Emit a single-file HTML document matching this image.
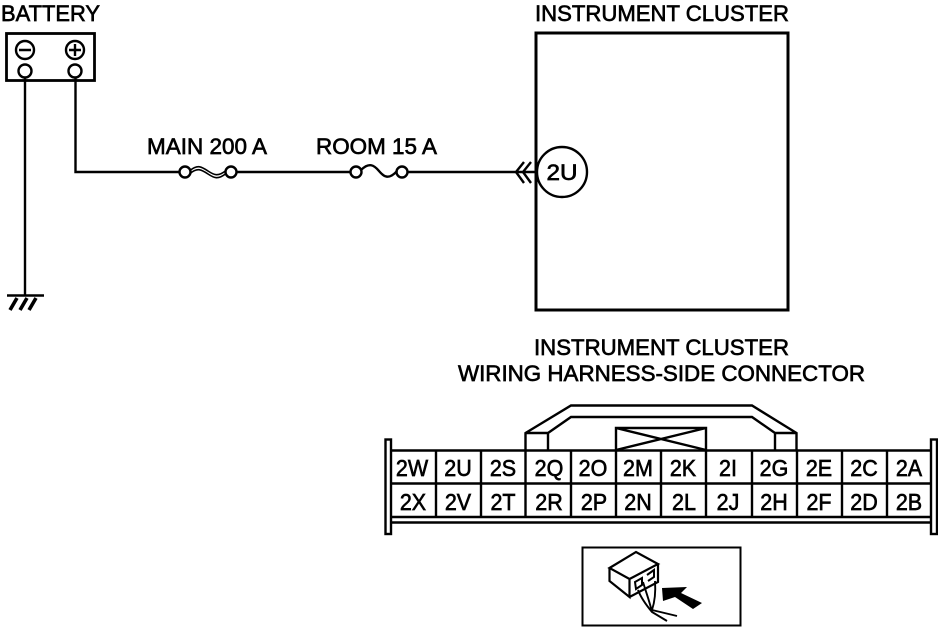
<!DOCTYPE html>
<html><head><meta charset="utf-8"><style>
html,body{margin:0;padding:0;background:#fff}
svg{display:block}
text{font-family:"Liberation Sans",sans-serif;font-size:20.5px;fill:#000;stroke:#000;stroke-width:.6px}
.k text{font-size:21.5px}
</style></head><body>
<svg width="938" height="627" viewBox="0 0 938 627" fill="none" stroke="#000" stroke-width="2.4">
<g transform="matrix(1 0 0 1.07 0 -1.47)">
<text x="1" y="21" textLength="99" lengthAdjust="spacingAndGlyphs">BATTERY</text>
<text x="535" y="21" textLength="254" lengthAdjust="spacingAndGlyphs">INSTRUMENT CLUSTER</text>
</g>
<rect x="6.500" y="33.500" width="88" height="47" stroke-width="2.800"/>
<circle cx="25" cy="50" r="9"/><circle cx="75" cy="50" r="9"/>
<path d="M19 50H31M69 50H81M75 44V56"/>
<circle cx="25" cy="71" r="6.500"/><circle cx="75" cy="71" r="6.500"/>
<path d="M25 78V296M7 295.500H44"/>
<path d="M10 310L17 298M20 310L27 298M29 310L36 298" stroke-width="3.600"/>
<path d="M75.500 78V172H179.500M236.500 172H350.500M407.500 172H536"/>
<g transform="matrix(1 0 0 1.07 0 -10.78)">
<text x="147" y="154" textLength="120" lengthAdjust="spacingAndGlyphs">MAIN 200 A</text>
<text x="316" y="154" textLength="121" lengthAdjust="spacingAndGlyphs">ROOM 15 A</text>
</g>
<circle cx="185" cy="172" r="5.500"/><circle cx="231" cy="172" r="5.500"/>
<path d="M190 170.500C198 164 202 167 208 171C214 175 218 177 226 170.500" stroke-width="1.600"/>
<path d="M190 173.500C198 167 202 170 208 174C214 178 218 180 226 173.500" stroke-width="1.600"/>
<circle cx="356" cy="172" r="5.500"/><circle cx="402" cy="172" r="5.500"/>
<path d="M361 170C369 162 374 165 379 171C384 177 389 180 397 171"/>
<path d="M524 162L516 172L524 183M531 162L523 172L531 183"/>
<rect x="536" y="33" width="252" height="277" stroke-width="3"/>
<circle cx="562" cy="172" r="25" fill="#fff"/>
<text x="562" y="180" text-anchor="middle" textLength="31" lengthAdjust="spacingAndGlyphs" transform="matrix(1 0 0 1.1 0 -18)">2U</text>
<g transform="matrix(1 0 0 1.07 0 -24.85)">
<text x="534" y="355" textLength="255" lengthAdjust="spacingAndGlyphs">INSTRUMENT CLUSTER</text>
</g>
<g transform="matrix(1 0 0 1.07 0 -26.67)">
<text x="458" y="381" textLength="407" lengthAdjust="spacingAndGlyphs">WIRING HARNESS-SIDE CONNECTOR</text>
</g>
<path d="M525.500 450V433L571 405.500H752L796.500 433V450M548 450V433L571 417H752L775 433V450M525.500 433H548M775 433H796.500"/>
<path d="M616 450V428H706V450M616 428L706 450M706 428L616 450"/>
<rect x="385.500" y="439.500" width="5.500" height="94.500"/>
<rect x="931" y="439.500" width="6" height="94.500"/>
<path d="M391 450.500H931M391 483.500H931M391 517H931M391 522.500H931"/>
<path d="M436 450V517M481 450V517M525.500 450V517M571 450V517M616 450V517M661 450V517M706 450V517M752 450V517M797 450V517M842 450V517M887 450V517"/>
<g class="k" text-anchor="middle" transform="matrix(1 0 0 1.07 0 -33.32)">
<text x="412" y="476">2W</text><text x="458" y="476">2U</text><text x="503" y="476">2S</text><text x="549" y="476">2Q</text><text x="593" y="476">2O</text><text x="638" y="476">2M</text><text x="683" y="476">2K</text><text x="728" y="476">2I</text><text x="774" y="476">2G</text><text x="819" y="476">2E</text><text x="864" y="476">2C</text><text x="909" y="476">2A</text>
</g>
<g class="k" text-anchor="middle" transform="matrix(1 0 0 1.07 0 -35.7)">
<text x="413" y="510">2X</text><text x="458" y="510">2V</text><text x="503" y="510">2T</text><text x="549" y="510">2R</text><text x="594" y="510">2P</text><text x="638" y="510">2N</text><text x="684" y="510">2L</text><text x="728" y="510">2J</text><text x="774" y="510">2H</text><text x="819" y="510">2F</text><text x="864" y="510">2D</text><text x="909" y="510">2B</text>
</g>
<rect x="582.500" y="547.500" width="158" height="78" stroke-width="2"/>
<path d="M609.500 568L636 552L658 564L629.500 579ZM609.500 568V581L629.500 597V579M658 564V582L629.500 597" stroke-width="2.200"/>
<path d="M635 582L642 578V585L636 589ZM647 575L654 570V577L648 581" stroke-width="2"/>
<path d="M638 590C641 598 647 606 652 612L667 621M643 582C647 595 650 603 652 612M655 581C656 595 654 604 652 610L677 616" stroke-width="1.900"/>
<path d="M662 588L687 587L681 593L702 603L693 609L675 597L663 601Z" fill="#000" stroke="none"/>
</svg>
</body></html>
